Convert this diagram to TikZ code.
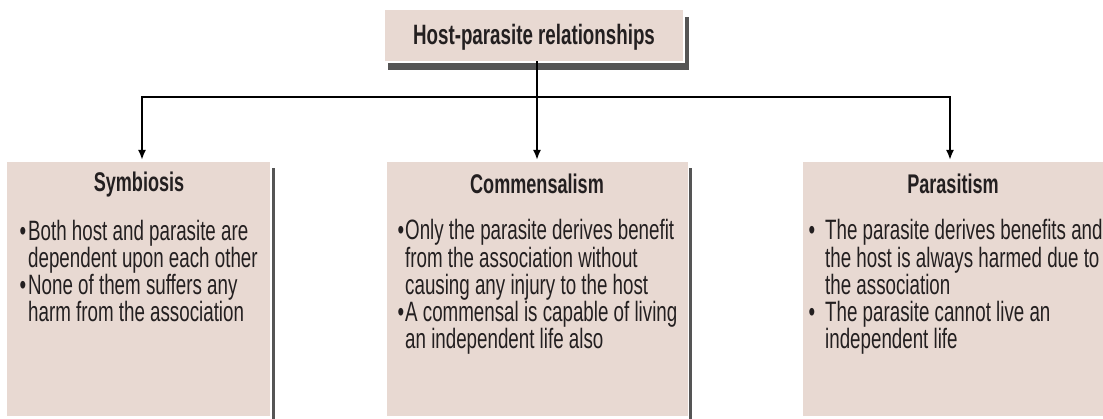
\documentclass[tikz,border=0pt]{standalone}
\usepackage{fontspec}
\setmainfont{Liberation Sans}[FakeStretch=0.67]
\usetikzlibrary{arrows.meta}
\definecolor{boxfill}{HTML}{E8D9D2}
\definecolor{shadowgray}{HTML}{555555}
\definecolor{ink}{HTML}{231F20}
\newcommand\mytightlines{\lineskiplimit=-20pt\relax}
\tikzset{
  panel/.style={fill=boxfill, draw=none, inner sep=0pt, anchor=north west},
  headtext/.style={font=\fontsize{27}{27.3}\selectfont\bfseries, text=ink, anchor=base, inner sep=0pt},
  bodytext/.style={font=\fontsize{28}{27.3}\selectfont\mytightlines, text=ink, align=left, anchor=base west, inner sep=0pt},
  conn/.style={draw=black, line width=2pt, line join=miter},
  arr/.style={conn, -{Latex[length=10pt,width=8pt]}},
}
\begin{document}
\begin{tikzpicture}[x=1pt,y=-1pt]
\useasboundingbox (0,0) rectangle (1103,419);
% top box
\fill[shadowgray] (685,17) rectangle (689,70);
\fill[shadowgray] (388,63) rectangle (689,70);
\node[panel, minimum width=298pt, minimum height=51pt] (top) at (385,10) {};
\node[font=\fontsize{28}{30}\selectfont\bfseries, text=ink, anchor=base, inner sep=0pt] (title) at (534,45) {Host-parasite relationships};
% lower boxes
\fill[shadowgray] (272,168) rectangle (275,419);
\fill[shadowgray] (689,168) rectangle (692,419);
\node[panel, minimum width=263pt, minimum height=254pt] (sym) at (7,162) {};
\node[panel, minimum width=301pt, minimum height=254pt] (com) at (387,162) {};
\node[panel, minimum width=310pt, minimum height=254pt] (par) at (803,162) {};
% headings
\node[headtext] (symhead) at (139,192) {Symbiosis};
\node[headtext] (comhead) at (537,194) {Commensalism};
\node[headtext] (parhead) at (953,194) {Parasitism};
% bodies (base anchor = baseline of the last line)
\node[bodytext] (symbody) at (28,322) {\llap{\textbullet\hspace{2pt}}Both host and parasite are\\dependent upon each other\\\llap{\textbullet\hspace{2pt}}None of them suffers any\\harm from the association};
\node[bodytext] (combody) at (405,349) {\llap{\textbullet\hspace{1pt}}Only the parasite derives benefit\\from the association without\\causing any injury to the host\\\llap{\textbullet\hspace{1pt}}A commensal is capable of living\\an independent life also};
\node[bodytext] (parbody) at (825,349) {\llap{\textbullet\hspace{10pt}}The parasite derives benefits and\\the host is always harmed due to\\the association\\\llap{\textbullet\hspace{10pt}}The parasite cannot live an\\independent life};
% connectors
\coordinate (bus) at (537,97);
\coordinate (symin) at (142,160);
\coordinate (comin) at (537,160);
\coordinate (parin) at (950,160);
\draw[conn] (top.south -| bus) -- (bus);
\draw[arr] (bus) -| (symin);
\draw[arr] (bus) -| (parin);
\draw[arr] (bus) -- (comin);
\end{tikzpicture}
\end{document}
